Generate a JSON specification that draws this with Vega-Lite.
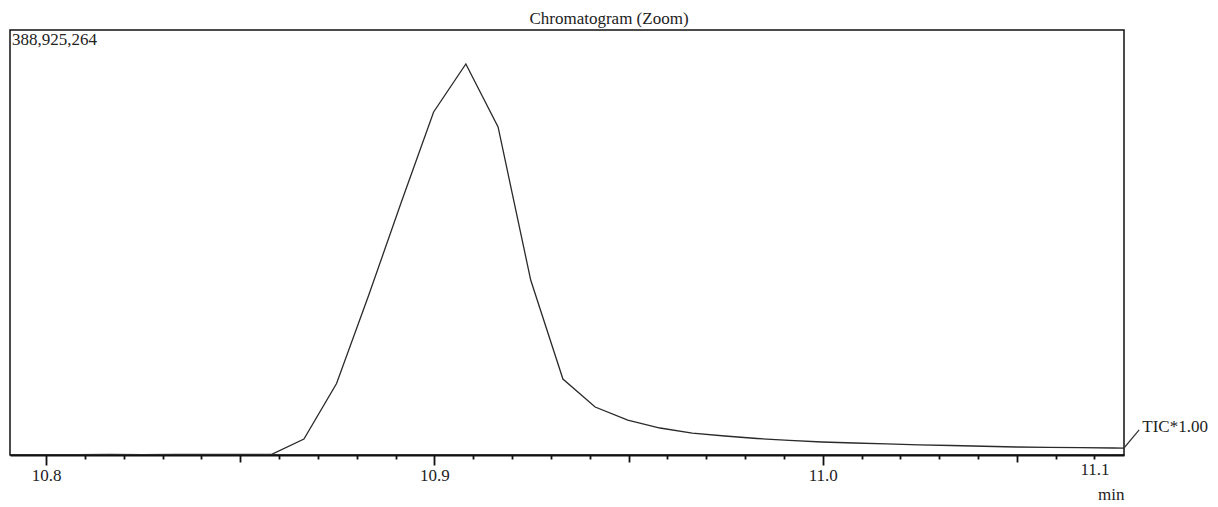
{
  "$schema": "https://vega.github.io/schema/vega-lite/v6.json",
  "width": 1114,
  "height": 425,
  "autosize": {"type": "none"},
  "padding": {"left": 10, "top": 30, "right": 94, "bottom": 52},
  "background": "white",
  "title": {
    "text": "Chromatogram (Zoom)",
    "font": "Liberation Serif",
    "fontSize": 17,
    "fontWeight": "normal",
    "color": "#222",
    "anchor": "middle",
    "dx": 42,
    "offset": 2
  },
  "config": {
    "font": "Liberation Serif",
    "view": {"stroke": "#111", "strokeWidth": 1.5},
    "text": {"font": "Liberation Serif", "fontSize": 17, "color": "#222"},
    "axis": {"labelFont": "Liberation Serif", "titleFont": "Liberation Serif"},
    "title": {"font": "Liberation Serif"}
  },
  "datasets": {
    "tic": [
      {"time": 10.7914, "intensity": 400000},
      {"time": 10.7998, "intensity": 420000},
      {"time": 10.8081, "intensity": 430000},
      {"time": 10.8164, "intensity": 440000},
      {"time": 10.8248, "intensity": 420000},
      {"time": 10.8331, "intensity": 450000},
      {"time": 10.8414, "intensity": 440000},
      {"time": 10.8498, "intensity": 460000},
      {"time": 10.8581, "intensity": 640000},
      {"time": 10.8664, "intensity": 14600000},
      {"time": 10.8748, "intensity": 65400000},
      {"time": 10.8831, "intensity": 146400000},
      {"time": 10.8914, "intensity": 230600000},
      {"time": 10.8998, "intensity": 313900000},
      {"time": 10.9081, "intensity": 357800000},
      {"time": 10.9164, "intensity": 300200000},
      {"time": 10.9248, "intensity": 160100000},
      {"time": 10.9331, "intensity": 69500000},
      {"time": 10.9414, "intensity": 43900000},
      {"time": 10.9498, "intensity": 32000000},
      {"time": 10.9581, "intensity": 24700000},
      {"time": 10.9664, "intensity": 20100000},
      {"time": 10.9748, "intensity": 17400000},
      {"time": 10.9831, "intensity": 15100000},
      {"time": 10.9914, "intensity": 13300000},
      {"time": 10.9998, "intensity": 11900000},
      {"time": 11.0081, "intensity": 11000000},
      {"time": 11.0164, "intensity": 10100000},
      {"time": 11.0248, "intensity": 9200000},
      {"time": 11.0331, "intensity": 8700000},
      {"time": 11.0414, "intensity": 8000000},
      {"time": 11.0498, "intensity": 7300000},
      {"time": 11.0581, "intensity": 6900000},
      {"time": 11.0664, "intensity": 6700000},
      {"time": 11.0748, "intensity": 6400000},
      {"time": 11.0831, "intensity": 6300000}
    ],
    "scaleLabel": [
      {"time": 10.7907, "intensity": 388925264, "label": "388,925,264"}
    ],
    "traceLabel": [
      {"time": 11.0823, "intensity": 25600000, "label": "TIC*1.00"}
    ],
    "leader": [
      {"time": 11.0776, "time2": 11.0815, "intensity": 6400000, "intensity2": 22900000}
    ]
  },
  "layer": [
    {
      "data": {"name": "tic"},
      "mark": {"type": "line", "clip": true, "color": "#2a2a2a", "strokeWidth": 1.3},
      "encoding": {
        "x": {
          "field": "time",
          "type": "quantitative",
          "scale": {"domain": [10.7907, 11.0776], "nice": false, "zero": false},
          "axis": {
            "title": "min",
            "titleFont": "Liberation Serif",
            "titleFontSize": 17,
            "titleFontWeight": "normal",
            "titleColor": "#222",
            "titleAnchor": "end",
            "titleAlign": "right",
            "titlePadding": 3,
            "values": [10.80, 10.81, 10.82, 10.83, 10.84, 10.85, 10.86, 10.87, 10.88, 10.89, 10.90, 10.91, 10.92, 10.93, 10.94, 10.95, 10.96, 10.97, 10.98, 10.99, 11.00, 11.01, 11.02, 11.03, 11.04, 11.05, 11.06, 11.07],
            "labelExpr": "round(datum.value*100) % 10 == 0 ? format(datum.value, '.1f') : (round(datum.value*100) == 1107 ? '11.1' : '')",
            "labelFont": "Liberation Serif",
            "labelFontSize": 17,
            "labelColor": "#222",
            "labelOverlap": false,
            "labelFlush": false,
            "labelPadding": 2,
            "domainColor": "#111",
            "domainWidth": 2,
            "tickColor": "#111",
            "tickWidth": 1.8,
            "tickSize": {
              "condition": [
                {"test": "round(datum.value*100) % 10 == 0", "value": 10},
                {"test": "round(datum.value*100) % 5 == 0", "value": 7}
              ],
              "value": 4
            },
            "grid": false
          }
        },
        "y": {
          "field": "intensity",
          "type": "quantitative",
          "scale": {"domain": [0, 388925264], "nice": false, "zero": true},
          "axis": null
        }
      }
    },
    {
      "data": {"name": "scaleLabel"},
      "mark": {"type": "text", "align": "left", "baseline": "top", "dx": 2, "dy": 2, "font": "Liberation Serif", "fontSize": 17},
      "encoding": {
        "x": {"field": "time", "type": "quantitative", "scale": {"domain": [10.7907, 11.0776], "nice": false, "zero": false}},
        "y": {"field": "intensity", "type": "quantitative"},
        "text": {"field": "label"}
      }
    },
    {
      "data": {"name": "leader"},
      "mark": {"type": "rule", "color": "#333", "strokeWidth": 1.2},
      "encoding": {
        "x": {"field": "time", "type": "quantitative", "scale": {"domain": [10.7907, 11.0776], "nice": false, "zero": false}},
        "x2": {"field": "time2"},
        "y": {"field": "intensity", "type": "quantitative"},
        "y2": {"field": "intensity2"}
      }
    },
    {
      "data": {"name": "traceLabel"},
      "mark": {"type": "text", "align": "left", "baseline": "middle", "font": "Liberation Serif", "fontSize": 17},
      "encoding": {
        "x": {"field": "time", "type": "quantitative", "scale": {"domain": [10.7907, 11.0776], "nice": false, "zero": false}},
        "y": {"field": "intensity", "type": "quantitative"},
        "text": {"field": "label"}
      }
    }
  ]
}
